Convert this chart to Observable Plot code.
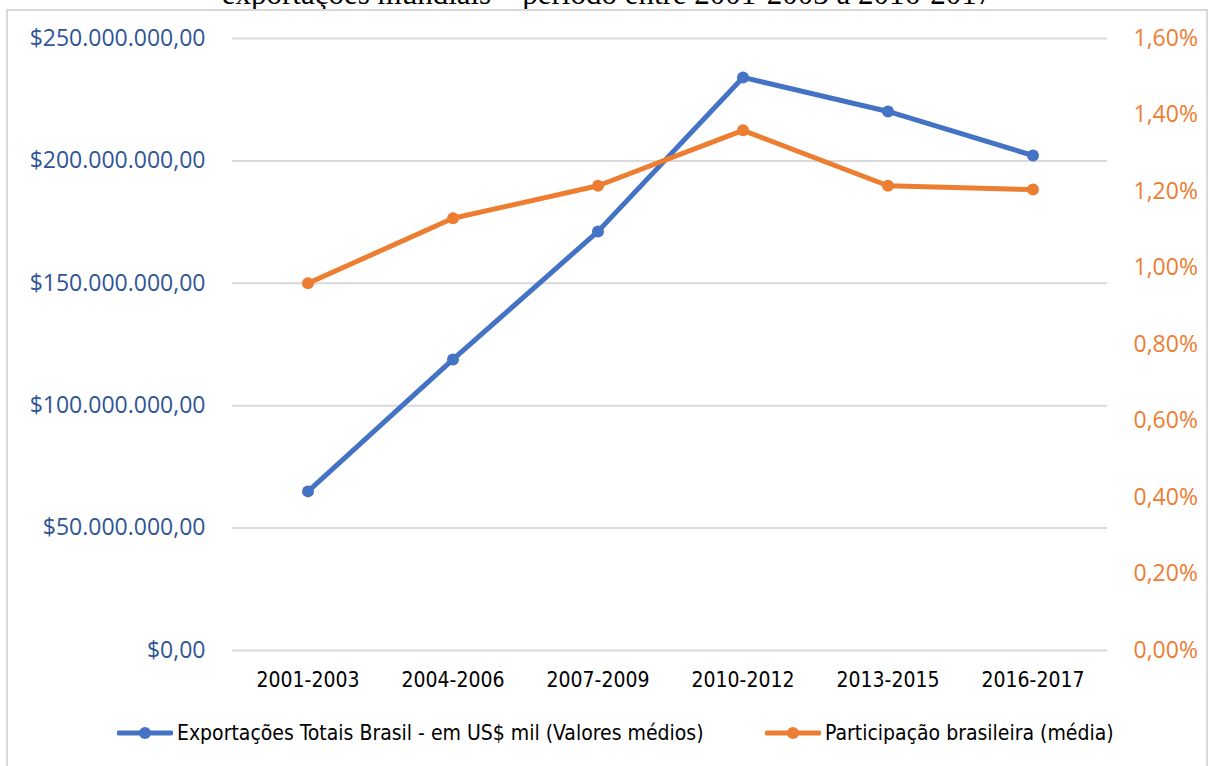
<!DOCTYPE html>
<html>
<head>
<meta charset="utf-8">
<script src="https://cdn.jsdelivr.net/npm/d3@7"></script>
<script src="https://cdn.jsdelivr.net/npm/@observablehq/plot@0.6"></script>
<style>
  html, body { margin: 0; padding: 0; background: #fff; }
  #wrap { position: relative; width: 1214px; height: 766px; overflow: hidden; background: #fff; }
  #title { position: absolute; left: 0; width: 1214px; top: -24px; text-align: center;
    font-family: "Liberation Serif", "Times New Roman", serif; font-size: 31px; color: #000; line-height: 36px; white-space: nowrap; }
  #frame { position: absolute; left: 6px; top: 9px; width: 1202px; height: 800px; border: 2px solid #d9d9d9; box-sizing: border-box; }
  #chart { position: absolute; left: 0; top: 0; }
  .leg { position: absolute; top: 718px; display: flex; align-items: center; height: 30px;
    font-family: "Liberation Sans Narrow", "DejaVu Sans Condensed", sans-serif; font-size: 21px; color: #000; white-space: nowrap; }
  .leg svg { margin-right: 4px; }
</style>
</head>
<body>
<div id="wrap">
  <div id="title">exportações mundiais – período entre 2001-2003 a 2016-2017</div>
  <div id="frame"></div>
  <div id="chart"></div>
</div>
<script>
const periods = ["2001-2003", "2004-2006", "2007-2009", "2010-2012", "2013-2015", "2016-2017"];
const exportsUSD = [65000000, 118900000, 171200000, 234100000, 220200000, 202200000];
const sharePct = [0.96, 1.13, 1.215, 1.36, 1.215, 1.205];
const leftTicks = [0, 50000000, 100000000, 150000000, 200000000, 250000000];
const rightTicks = [0, 0.2, 0.4, 0.6, 0.8, 1.0, 1.2, 1.4, 1.6];
const seriesNames = ["Exportações Totais Brasil - em US$ mil (Valores médios)", "Participação brasileira (média)"];
const colors = ["#4472C4", "#ED7D31"];

const leftMax = 250000000, rightMax = 1.6;
const toLeft = p => p / rightMax * leftMax;

const blue = periods.map((p, i) => ({period: p, v: exportsUSD[i]}));
const orange = periods.map((p, i) => ({period: p, v: toLeft(sharePct[i])}));

const fmtMoney = v => "$" + d3.format(",.2f")(v).replace(/,/g, "#").replace(/\./g, ",").replace(/#/g, ".");
const fmtPct = v => v.toFixed(2).replace(".", ",") + "%";

const plot = Plot.plot({
  width: 1214,
  height: 705,
  marginTop: 38,
  marginBottom: 55,
  marginLeft: 232,
  marginRight: 107,
  style: { fontFamily: "'Open Sans', sans-serif", background: "transparent", overflow: "visible" },
  x: { type: "band", domain: periods, padding: 0 },
  y: { domain: [0, leftMax] },
  marks: [
    Plot.gridY(leftTicks, { stroke: "#d9d9d9", strokeOpacity: 1, strokeWidth: 2 }),
    Plot.axisY(leftTicks, { anchor: "left", tickSize: 0, tickPadding: 27, tickFormat: fmtMoney,
      fontSize: 23, fill: "#2F5597", label: null }),
    Plot.axisY(rightTicks.map(toLeft), { anchor: "right", tickSize: 0, tickPadding: 26,
      tickFormat: d => fmtPct(d / leftMax * rightMax), fontSize: 23, fill: "#ED7D31", label: null }),
    Plot.axisX({ tickSize: 0, tickPadding: 22, fontSize: 21, fill: "#000", label: null,
      fontFamily: "'Liberation Sans Narrow', 'DejaVu Sans Condensed', sans-serif" }),
    Plot.lineY(blue, { x: "period", y: "v", stroke: colors[0], strokeWidth: 5 }),
    Plot.dot(blue, { x: "period", y: "v", r: 6, fill: colors[0] }),
    Plot.lineY(orange, { x: "period", y: "v", stroke: colors[1], strokeWidth: 5 }),
    Plot.dot(orange, { x: "period", y: "v", r: 6, fill: colors[1] })
  ]
});
document.getElementById("chart").appendChild(plot);

const wrap = document.getElementById("wrap");
const legLefts = [117, 765];
seriesNames.forEach((name, i) => {
  const d = document.createElement("div");
  d.className = "leg";
  d.style.left = legLefts[i] + "px";
  d.innerHTML = `<svg width="56" height="14"><line x1="2" y1="7" x2="54" y2="7" stroke="${colors[i]}" stroke-width="5" stroke-linecap="round"/><circle cx="28" cy="7" r="6" fill="${colors[i]}"/></svg><span></span>`;
  d.querySelector("span").textContent = name;
  wrap.appendChild(d);
});
</script>
</body>
</html>
